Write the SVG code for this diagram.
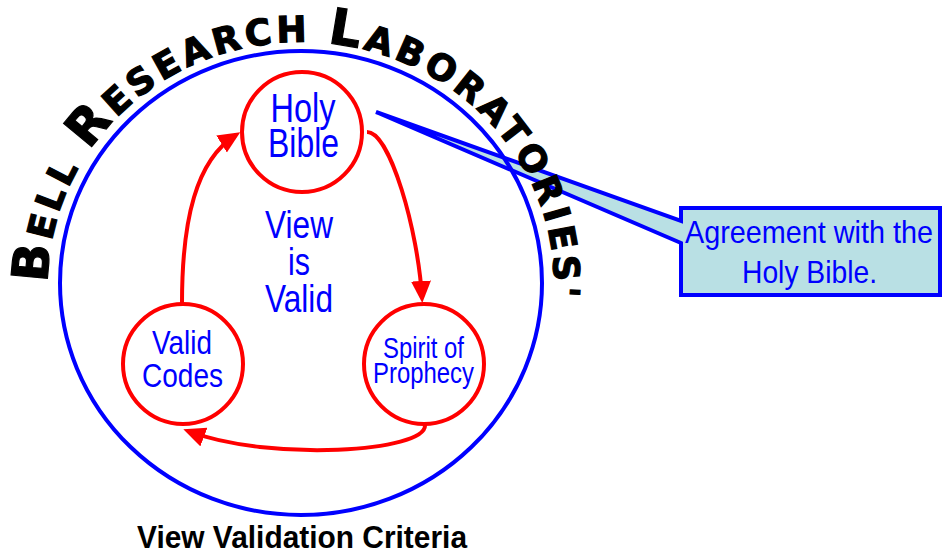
<svg xmlns="http://www.w3.org/2000/svg" width="943" height="558" viewBox="0 0 943 558">
<style>
.blue{font-family:"Liberation Sans",Arial,sans-serif;fill:#0000FF;text-anchor:middle}
.node{fill:#FFFFFF;stroke:#FF0000;stroke-width:4}
.conn{fill:none;stroke:#FF0000;stroke-width:4}
.arc{font-family:"DejaVu Sans",sans-serif;font-weight:bold;fill:#000000;stroke:#000000;stroke-width:1.2}
</style>
<defs>
<marker id="ah" markerUnits="userSpaceOnUse" markerWidth="24" markerHeight="22" refX="17" refY="10" orient="auto">
<path d="M0,0 L22,10 L0,20 Z" fill="#FF0000"/>
</marker>
<path id="arcpath" d="M48,283 A253,241 0 0 1 554,283 A253,241 0 0 1 551,318"/>
</defs>
<rect width="943" height="558" fill="#FFFFFF"/>
<g id="callout">
<path d="M681,208 H940 V295 H681 V243 L376,112 L681,221 Z" fill="#B9E0E4" stroke="#0000FF" stroke-width="4" stroke-miterlimit="3"/>
<text class="blue" x="809" y="243" font-size="32" textLength="248" lengthAdjust="spacingAndGlyphs">Agreement with the</text>
<text class="blue" x="809.5" y="283" font-size="32" textLength="135" lengthAdjust="spacingAndGlyphs">Holy Bible.</text>
</g>
<g id="boundary">
<ellipse cx="301" cy="283" rx="241" ry="232" fill="none" stroke="#0000FF" stroke-width="4"/>
</g>
<g id="arc-title">
<text class="arc" letter-spacing="3.9"><textPath href="#arcpath"><tspan font-size="50">B</tspan><tspan font-size="36">ELL </tspan><tspan font-size="50">R</tspan><tspan font-size="36">ESEARCH </tspan><tspan font-size="50">L</tspan><tspan font-size="36">ABORATORIES'</tspan></textPath></text>
</g>
<g id="connectors">
<path class="conn" d="M182,303 C182,220 196,160 236,135" marker-end="url(#ah)"/>
<path class="conn" d="M367,132 C390,132 418,230 422,298" marker-end="url(#ah)"/>
<path class="conn" d="M425,425 C427,452 270,462 188,431" marker-end="url(#ah)"/>
</g>
<g id="holy-bible">
<circle class="node" cx="302" cy="132" r="60"/>
<text class="blue" x="303" y="122" font-size="40" textLength="65" lengthAdjust="spacingAndGlyphs">Holy</text>
<text class="blue" x="303.5" y="157" font-size="40" textLength="71" lengthAdjust="spacingAndGlyphs">Bible</text>
</g>
<g id="view-is-valid">
<text class="blue" x="299" y="238" font-size="38" textLength="68" lengthAdjust="spacingAndGlyphs">View</text>
<text class="blue" x="299" y="275" font-size="38" textLength="22" lengthAdjust="spacingAndGlyphs">is</text>
<text class="blue" x="299" y="312" font-size="38" textLength="68" lengthAdjust="spacingAndGlyphs">Valid</text>
</g>
<g id="valid-codes">
<circle class="node" cx="183" cy="364" r="60"/>
<text class="blue" x="182" y="354" font-size="33" textLength="60" lengthAdjust="spacingAndGlyphs">Valid</text>
<text class="blue" x="182.5" y="387" font-size="33" textLength="81" lengthAdjust="spacingAndGlyphs">Codes</text>
</g>
<g id="spirit-of-prophecy">
<circle class="node" cx="424" cy="364" r="60"/>
<text class="blue" x="423.5" y="358" font-size="29" textLength="81" lengthAdjust="spacingAndGlyphs">Spirit of</text>
<text class="blue" x="423.5" y="383" font-size="29" textLength="101" lengthAdjust="spacingAndGlyphs">Prophecy</text>
</g>
<g id="caption">
<text x="302" y="548" font-family="Liberation Sans,Arial,sans-serif" font-weight="bold" font-size="32" fill="#000000" text-anchor="middle" textLength="330" lengthAdjust="spacingAndGlyphs">View Validation Criteria</text>
</g>
</svg>
